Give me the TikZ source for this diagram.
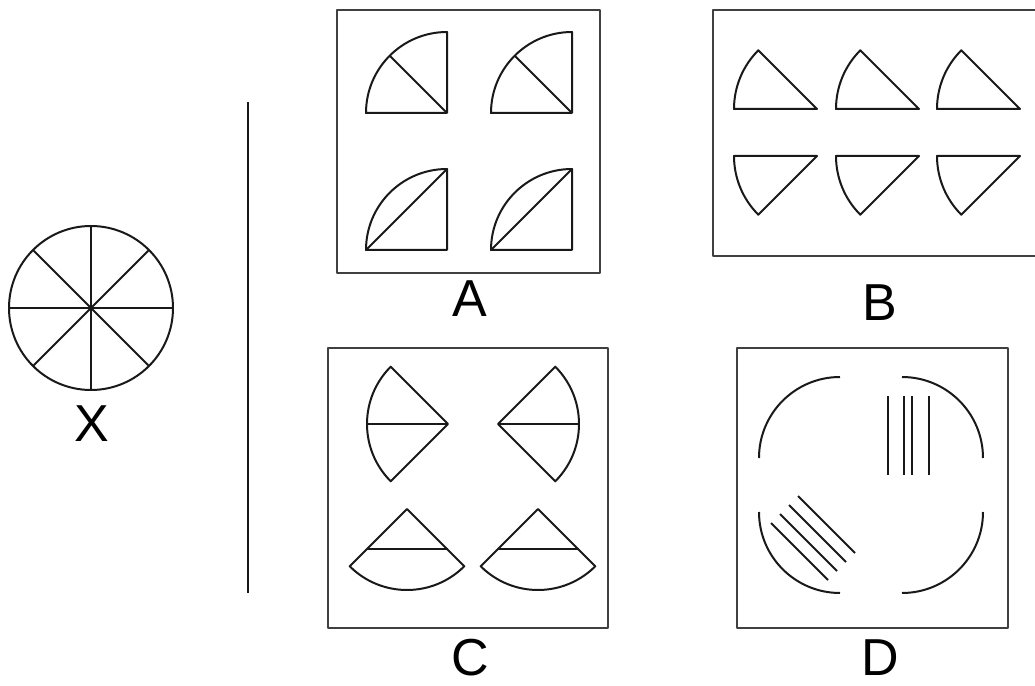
\documentclass[tikz,border=0pt]{standalone}
\usepackage{fontspec}
\setmainfont{Liberation Sans}
\begin{document}
\begin{tikzpicture}[x=0.5pt, y=0.5pt, line join=round,
		panel/.style={draw=black!75, line width=1.05pt},
		piece/.style={draw=black!90, line width=1pt},
		letter/.style={font=\fontsize{26}{30}\selectfont}]
	\useasboundingbox (0,0) rectangle (1035,686);
	% the circle X
	\coordinate (x0) at (91,378);
	\draw[piece] (x0) circle[radius=82];
	\draw[piece] (x0) +(0:82) -- +(180:82);
	\draw[piece] (x0) +(90:82) -- +(270:82);
	\draw[piece] (x0) +(45:82) -- +(225:82);
	\draw[piece] (x0) +(135:82) -- +(315:82);
	\node[letter] (labX) at (92,262) {X};
	% divider
	\coordinate (top) at (248,584);
	\coordinate (bot) at (248,93);
	\draw[piece] (top) -- (bot);
	% panel A
	\draw[panel] (337,413) rectangle (600,676);
	\coordinate (a1) at (447,573);
	\coordinate (a2) at (572,573);
	\coordinate (a3) at (447,436);
	\coordinate (a4) at (572,436);
	\draw[piece] (a1) -- ++(0,81) arc[start angle=90, end angle=180, radius=81] -- cycle;
	\draw[piece] (a1) -- +(135:81);
	\draw[piece] (a2) -- ++(0,81) arc[start angle=90, end angle=180, radius=81] -- cycle;
	\draw[piece] (a2) -- +(135:81);
	\draw[piece] (a3) -- ++(0,81) arc[start angle=90, end angle=180, radius=81] -- cycle;
	\draw[piece] (a3) +(-81,0) -- +(0,81);
	\draw[piece] (a4) -- ++(0,81) arc[start angle=90, end angle=180, radius=81] -- cycle;
	\draw[piece] (a4) +(-81,0) -- +(0,81);
	\node[letter] (labA) at (470,387) {A};
	% panel B
	\draw[panel] (713,430) rectangle (1037,676);
	\coordinate (b1) at (817,577);
	\coordinate (b2) at (919,577);
	\coordinate (b3) at (1020,577);
	\coordinate (b4) at (817,530);
	\coordinate (b5) at (919,530);
	\coordinate (b6) at (1020,530);
	\draw[piece] (b1) -- ++(-83,0) arc[start angle=180, end angle=135, radius=83] -- cycle;
	\draw[piece] (b2) -- ++(-83,0) arc[start angle=180, end angle=135, radius=83] -- cycle;
	\draw[piece] (b3) -- ++(-83,0) arc[start angle=180, end angle=135, radius=83] -- cycle;
	\draw[piece] (b4) -- ++(-83,0) arc[start angle=180, end angle=225, radius=83] -- cycle;
	\draw[piece] (b5) -- ++(-83,0) arc[start angle=180, end angle=225, radius=83] -- cycle;
	\draw[piece] (b6) -- ++(-83,0) arc[start angle=180, end angle=225, radius=83] -- cycle;
	\node[letter] (labB) at (880,383) {B};
	% panel C
	\draw[panel] (328,58) rectangle (608,338);
	\coordinate (c1) at (448,262);
	\coordinate (c2) at (498,262);
	\coordinate (c3) at (407,177);
	\coordinate (c4) at (538,177);
	\draw[piece] (c1) -- ++(135:81) arc[start angle=135, end angle=225, radius=81] -- cycle;
	\draw[piece] (c1) -- +(180:81);
	\draw[piece] (c2) -- ++(-45:81) arc[start angle=-45, end angle=45, radius=81] -- cycle;
	\draw[piece] (c2) -- +(0:81);
	\draw[piece] (c3) -- ++(225:81) arc[start angle=225, end angle=315, radius=81] -- cycle;
	\draw[piece] (c3) +(-40.5,-40.5) -- +(40.5,-40.5);
	\draw[piece] (c4) -- ++(225:81) arc[start angle=225, end angle=315, radius=81] -- cycle;
	\draw[piece] (c4) +(-40.5,-40.5) -- +(40.5,-40.5);
	\node[letter] (labC) at (470,28) {C};
	% panel D
	\draw[panel] (737,58) rectangle (1008,338);
	\coordinate (d1) at (840,228);
	\coordinate (d2) at (902,228);
	\coordinate (d3) at (840,174);
	\coordinate (d4) at (902,174);
	\draw[piece] (d1) ++(0,81) arc[start angle=90, end angle=180, radius=81];
	\draw[piece] (d2) ++(81,0) arc[start angle=0, end angle=90, radius=81];
	\draw[piece] (d3) ++(-81,0) arc[start angle=180, end angle=270, radius=81];
	\draw[piece] (d4) ++(0,-81) arc[start angle=270, end angle=360, radius=81];
	\draw[piece] (888,290) -- (888,211);
	\draw[piece] (904,290) -- (904,211);
	\draw[piece] (912,290) -- (912,211);
	\draw[piece] (929,290) -- (929,211);
	\draw[piece] (798,190) -- (855,133);
	\draw[piece] (789,181) -- (846,124);
	\draw[piece] (780,172) -- (837,115);
	\draw[piece] (771,163) -- (828,106);
	\node[letter] (labD) at (880,28) {D};
\end{tikzpicture}
\end{document}
